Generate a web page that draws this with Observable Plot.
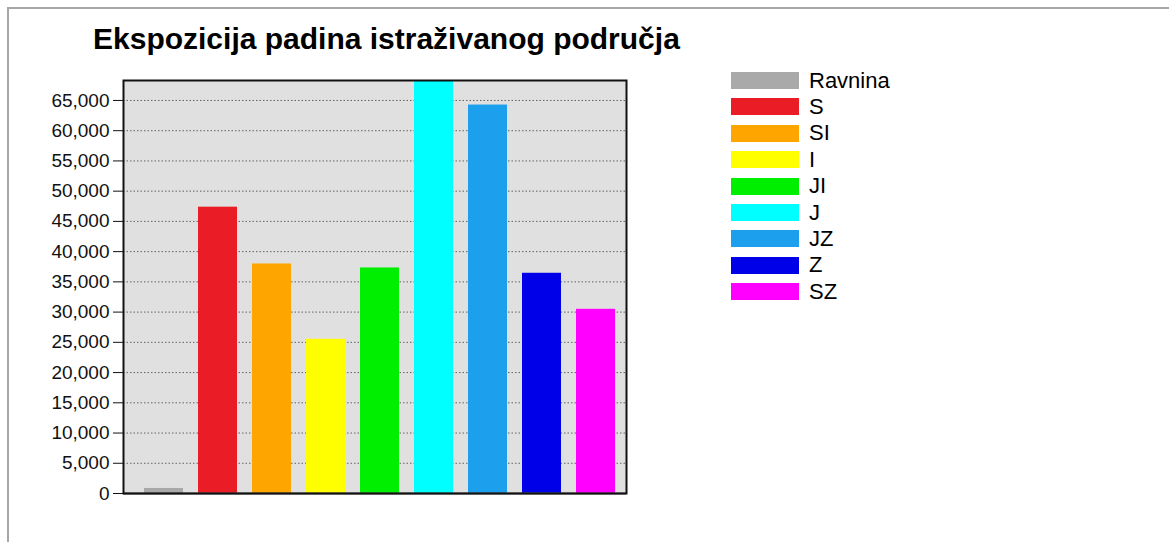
<!DOCTYPE html>
<html>
<head>
<meta charset="utf-8">
<script src="https://cdn.jsdelivr.net/npm/d3@7"></script>
<script src="https://cdn.jsdelivr.net/npm/@observablehq/plot@0.6"></script>
<style>
  html, body { margin: 0; padding: 0; background: #fff; overflow: hidden; }
  #page { position: relative; width: 1169px; height: 542px; font-family: "Liberation Sans", Arial, sans-serif; }
  #border { position: absolute; left: 7px; top: 7px; width: 1200px; height: 600px; border-left: 2px solid #a6a6a6; border-top: 2px solid #a6a6a6; }
  #title { position: absolute; left: 93px; top: 24px; font-size: 30px; line-height: 30px; font-weight: bold; color: #000; white-space: nowrap; }
  #chart { position: absolute; left: 0; top: 0; }
  .sw { position: absolute; width: 68px; height: 17px; }
  .lab { position: absolute; font-size: 22px; line-height: 22px; color: #000; white-space: nowrap; }
</style>
</head>
<body>
<div id="page">
  <div id="border"></div>
  <div id="title">Ekspozicija padina istraživanog područja</div>
  <div id="chart"></div>
  <div id="legend"></div>
</div>
<script>
const categories = ["Ravnina", "S", "SI", "I", "JI", "J", "JZ", "Z", "SZ"];
const values = [830, 47350, 37960, 25500, 37300, 68300, 64240, 36420, 30460];
const colors = ["#a9a9a9", "#ea1c26", "#ffa500", "#ffff00", "#00ee00", "#00ffff", "#1c9fec", "#0000e8", "#ff00ff"];
const yTicks = [0, 5000, 10000, 15000, 20000, 25000, 30000, 35000, 40000, 45000, 50000, 55000, 60000, 65000];
const yMax = 68300;

const data = categories.map((c, i) => ({cat: c, value: values[i]}));
const fmt = d3.format(",");

const chart = Plot.plot({
  width: 640,
  height: 542,
  marginLeft: 123,
  marginRight: 14,
  marginTop: 80,
  marginBottom: 49,
  style: {background: "transparent", fontFamily: "'Liberation Sans', Arial, sans-serif", fontSize: "19px", color: "#111"},
  x: {domain: categories, paddingInner: 0.28, paddingOuter: 0.26, align: 0.64, axis: null},
  y: {domain: [0, yMax], axis: null},
  color: {domain: categories, range: colors},
  marks: [
    Plot.frame({fill: "#e0e0e0", stroke: "none"}),
    Plot.gridY(yTicks, {stroke: "#555", strokeOpacity: 0.9, strokeDasharray: "1.5,2"}),
    Plot.barY(data, {x: "cat", y: "value", fill: "cat", clip: true}),
    Plot.axisY(yTicks, {tickSize: 10, tickPadding: 4, tickFormat: fmt, stroke: "#111", fill: "#111", fontSize: 19, label: null}),
    Plot.ruleY([0], {stroke: "#666", strokeWidth: 2}),
    Plot.frame({stroke: "#111", strokeWidth: 2})
  ]
});
document.getElementById("chart").appendChild(chart);

const legend = document.getElementById("legend");
categories.forEach((c, i) => {
  const top = 72 + 26.4 * i;
  const sw = document.createElement("div");
  sw.className = "sw";
  sw.style.left = "731px";
  sw.style.top = top + "px";
  sw.style.background = colors[i];
  legend.appendChild(sw);
  const lab = document.createElement("div");
  lab.className = "lab";
  lab.style.left = "809px";
  lab.style.top = (top - 2.5) + "px";
  lab.textContent = c;
  legend.appendChild(lab);
});
</script>
</body>
</html>
